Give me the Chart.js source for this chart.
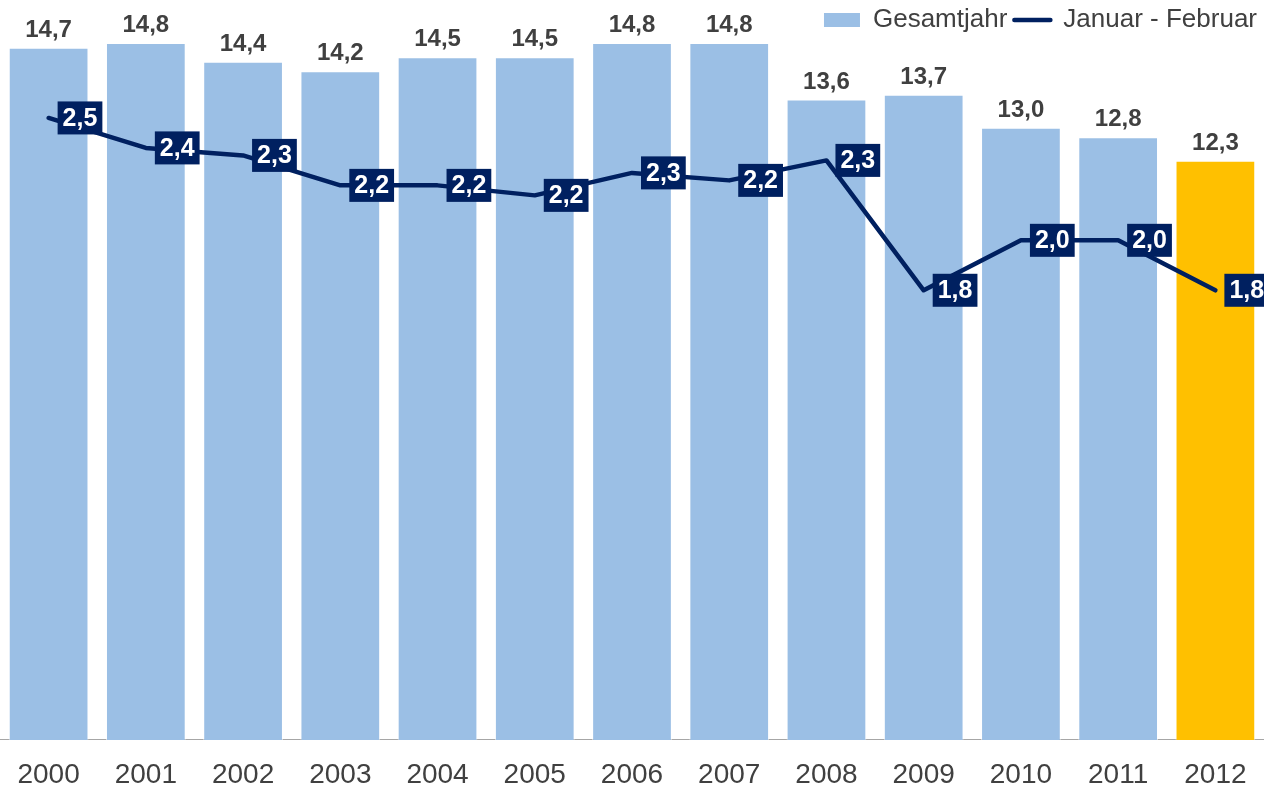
<!DOCTYPE html>
<html>
<head>
<meta charset="utf-8">
<script src="https://cdn.jsdelivr.net/npm/chart.js@4.4.1/dist/chart.umd.min.js"></script>
<style>
  html, body { margin: 0; padding: 0; background: #fff; }
</style>
</head>
<body>
<canvas id="chartjs-0" width="1264" height="788"></canvas>
<script>
let years = ["2000", "2001", "2002", "2003", "2004", "2005", "2006", "2007", "2008", "2009", "2010", "2011", "2012"];
let gesamtjahr = [14.7, 14.8, 14.4, 14.2, 14.5, 14.5, 14.8, 14.8, 13.6, 13.7, 13.0, 12.8, 12.3];
let janFeb = [2.49, 2.37, 2.34, 2.22, 2.22, 2.18, 2.27, 2.24, 2.32, 1.80, 2.00, 2.00, 1.80];

const FONT = '"Liberation Sans", Arial, sans-serif';
const BLUE = "#9bbfe5";
const YELLOW = "#ffc000";
const NAVY = "#002060";
const GREY = "#404040";

function fmt(v) {
    return v.toFixed(1).replace(".", ",");
}

// labels over the bars and boxed labels next to the line points
const valueLabels = {
    id: "valueLabels",
    afterDatasetsDraw(chart) {
        let ctx = chart.ctx;
        ctx.save();
        ctx.textAlign = "center";

        let barMeta = chart.getDatasetMeta(0);
        ctx.font = "bold 24px " + FONT;
        ctx.fillStyle = GREY;
        ctx.textBaseline = "alphabetic";
        barMeta.data.forEach(function (bar, i) {
            ctx.fillText(fmt(gesamtjahr[i]), bar.x, bar.y - 11);
        });

        let lineMeta = chart.getDatasetMeta(1);
        ctx.font = "bold 25px " + FONT;
        ctx.textBaseline = "middle";
        lineMeta.data.forEach(function (pt, i) {
            let txt = fmt(janFeb[i]);
            let w = ctx.measureText(txt).width + 10;
            let h = 33;
            let left = pt.x + 9;
            ctx.fillStyle = NAVY;
            ctx.fillRect(left, pt.y - h / 2, w, h);
            ctx.fillStyle = "#fff";
            ctx.fillText(txt, left + w / 2, pt.y + 1);
        });
        ctx.restore();
    }
};

let ctx = document.getElementById("chartjs-0");
let myChart = new Chart(ctx, {
    type: "bar",
    data: {
        labels: years,
        datasets: [{
            type: "bar",
            label: "Gesamtjahr",
            data: gesamtjahr,
            backgroundColor: years.map((y, i) => i === years.length - 1 ? YELLOW : BLUE),
            borderColor: "rgba(255,255,255,0.6)",
            borderWidth: 1,
            barPercentage: 0.82,
            categoryPercentage: 1.0,
            yAxisID: "y",
            order: 1
        }, {
            type: "line",
            label: "Januar - Februar",
            data: janFeb,
            borderColor: NAVY,
            borderWidth: 4.5,
            borderJoinStyle: "round",
            borderCapStyle: "round",
            pointRadius: 0,
            tension: 0,
            fill: false,
            yAxisID: "y1",
            order: 0
        }]
    },
    options: {
        responsive: false,
        animation: false,
        layout: { autoPadding: false, padding: { top: 0, bottom: -22, left: 0, right: 0 } },
        plugins: {
            tooltip: { enabled: false },
            legend: {
                position: "top",
                align: "end",
                labels: {
                    font: { family: FONT, size: 26 },
                    color: GREY,
                    padding: 7,
                    usePointStyle: true,
                    pointStyleWidth: 36,
                    boxHeight: 14,
                    generateLabels(chart) {
                        return chart.data.datasets.map(function (ds, i) {
                            return {
                                text: ds.label,
                                fillStyle: i === 0 ? BLUE : NAVY,
                                strokeStyle: i === 0 ? BLUE : NAVY,
                                lineWidth: i === 0 ? 0 : 4.5,
                                lineCap: "round",
                                pointStyle: i === 0 ? "rect" : "line",
                                fontColor: GREY,
                                hidden: false,
                                datasetIndex: i
                            };
                        });
                    }
                }
            }
        },
        scales: {
            x: {
                grid: { display: false, drawTicks: false },
                border: { display: true, color: "#a6a6a6", width: 1 },
                ticks: {
                    font: { family: FONT, size: 28, lineHeight: 2.29 },
                    color: GREY,
                    padding: 3,
                    maxRotation: 0,
                    autoSkip: false
                }
            },
            y: {
                display: false,
                min: 0,
                max: 14.8
            },
            y1: {
                display: false,
                position: "right",
                min: 0,
                max: 2.79
            }
        }
    },
    plugins: [valueLabels]
});
</script>
</body>
</html>
